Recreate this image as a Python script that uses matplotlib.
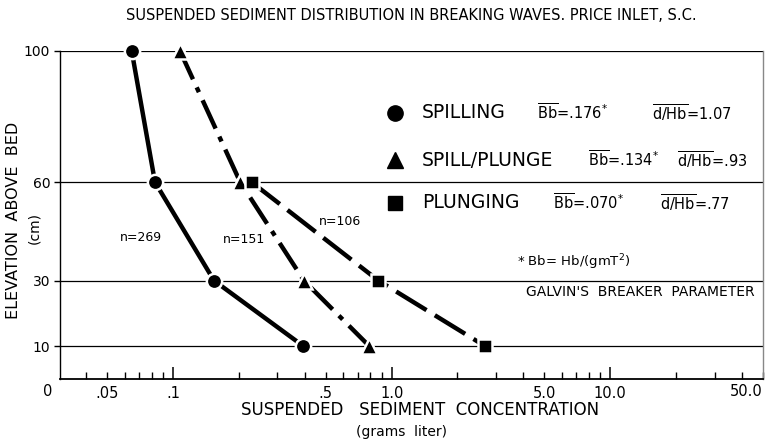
import matplotlib
matplotlib.use("Agg")
import matplotlib.pyplot as plt
from matplotlib.ticker import FixedLocator, FixedFormatter

plt.rcParams['font.family'] = ['DejaVu Sans']
plt.rcParams['mathtext.fontset'] = 'dejavusans'

# ---- data ----
elev = [100, 60, 30, 10]
spilling = [0.0647, 0.0827, 0.154, 0.395]
spill_plunge = [0.1076, 0.203, 0.397, 0.791]
plunge_elev = [60, 30, 10]
plunging = [0.229, 0.87, 2.68]

n_labels = ["n=269", "n=151", "n=106"]
ytick_vals = [10, 30, 60, 100]
xmajor = [0.1, 1, 10]
xminor = [0.04, 0.05, 0.06, 0.07, 0.08, 0.09,
          0.2, 0.3, 0.4, 0.5, 0.6, 0.7, 0.8, 0.9,
          2, 3, 4, 5, 6, 7, 8, 9, 20, 30, 40, 50]
xlabels_major = [".1", "1.0", "10.0"]
xlabels_minor = {0.05: ".05", 0.5: ".5", 5: "5.0"}

rows = [("o", "SPILLING", r"$\overline{\mathrm{Bb}}$=.176$^{*}$", r"$\overline{\mathrm{d/Hb}}$=1.07"),
        ("^", "SPILL/PLUNGE", r"$\overline{\mathrm{Bb}}$=.134$^{*}$", r"$\overline{\mathrm{d/Hb}}$=.93"),
        ("s", "PLUNGING", r"$\overline{\mathrm{Bb}}$=.070$^{*}$", r"$\overline{\mathrm{d/Hb}}$=.77")]

fig = plt.figure(figsize=(7.75, 4.42), dpi=100)
ax = fig.add_axes([60/775, 1-379/442, 703/775, 328/442])
ax.set_xscale('log')
ax.set_xlim(0.0304, 50)
ax.set_ylim(0, 100)

# grid lines at the labelled elevations
for yv in ytick_vals:
    ax.axhline(yv, color='black', lw=0.9, zorder=1)

LW = 3.2
ax.plot(spilling, elev, color='black', lw=LW, solid_capstyle='butt', zorder=2)
ax.plot(spill_plunge, elev, color='black', lw=LW, ls=(0, (7, 2, 1.2, 2)), zorder=2)
ax.plot(plunging, plunge_elev, color='black', lw=LW, ls=(0, (8, 2.2)), zorder=2)

mk = dict(color='black', ls='none', mec='white', mew=1.8, clip_on=False, zorder=3)
ax.plot(spilling, elev, marker='o', ms=11, **mk)
ax.plot(spill_plunge, elev, marker='^', ms=12, **mk)
ax.plot(plunging, plunge_elev, marker='s', ms=10.5, **mk)

# n labels
for lab, (xv, yv) in zip(n_labels, [(0.0714, 43), (0.211, 42.4), (0.58, 48.0)]):
    ax.text(xv, yv, lab, fontsize=9, ha='center', va='center', zorder=4)

# spines and ticks
ax.spines['top'].set_visible(False)
ax.spines['right'].set_color('#888888')
ax.spines['right'].set_linewidth(1.0)
ax.spines['left'].set_linewidth(1.0)
ax.spines['bottom'].set_linewidth(1.3)

ax.set_yticks(ytick_vals)
ax.set_yticklabels([str(v) for v in ytick_vals], fontsize=10)
ax.tick_params(axis='y', direction='out', length=4, width=1, pad=3)

ax.xaxis.set_major_locator(FixedLocator(xmajor))
ax.xaxis.set_major_formatter(FixedFormatter(xlabels_major))
ax.xaxis.set_minor_locator(FixedLocator(xminor))
ax.xaxis.set_minor_formatter(FixedFormatter([xlabels_minor.get(v, "") for v in xminor]))
ax.tick_params(axis='x', which='major', direction='in', length=9, width=1.1, labelsize=10.5, pad=5)
ax.tick_params(axis='x', which='minor', direction='in', length=5, width=1.0, labelsize=10.5, pad=5)
ax.text(-0.017, -0.016, "0", transform=ax.transAxes, fontsize=10.5, ha='center', va='top')
ax.text(1.0, -0.016, "50.0", transform=ax.transAxes, fontsize=10.5, ha='right', va='top')

# legend block
leg_y = [113, 160, 203]
for (m, name, bb, dh), yp, bx, dx in zip(rows, leg_y, [537, 588, 553], [652, 677, 660]):
    fy = 1 - yp/442
    fig.lines.append(plt.Line2D([395/775], [fy], marker=m, color='black', ms=11 if m != 's' else 10,
                                ls='none', transform=fig.transFigure))
    fig.text(422/775, fy, name, fontsize=13.5, va='center', ha='left')
    fig.text(bx/775, fy, bb, fontsize=10.5, va='center', ha='left')
    fig.text(dx/775, fy, dh, fontsize=10.5, va='center', ha='left')

fig.text(517/775, 1-262/442, r"* Bb= Hb/(gmT$^2$)", fontsize=9.5, va='center', ha='left')
fig.text(755/775, 1-292/442, "GALVIN'S  BREAKER  PARAMETER", fontsize=10, va='center', ha='right')

# titles and axis labels
fig.text(411/775, 1-15/442, "SUSPENDED SEDIMENT DISTRIBUTION IN BREAKING WAVES. PRICE INLET, S.C.",
         fontsize=10.5, ha='center', va='center')
fig.text(14/775, 1-220/442, "ELEVATION  ABOVE  BED", fontsize=11.5, rotation=90, ha='center', va='center')
fig.text(34/775, 1-228/442, "(cm)", fontsize=10, rotation=90, ha='center', va='center')
fig.text(420/775, 1-410/442, "SUSPENDED   SEDIMENT  CONCENTRATION", fontsize=12, ha='center', va='center')
fig.text(402/775, 1-432/442, "(grams  liter)", fontsize=10, ha='center', va='center')

fig.savefig("out.png", dpi=100, facecolor='white')
